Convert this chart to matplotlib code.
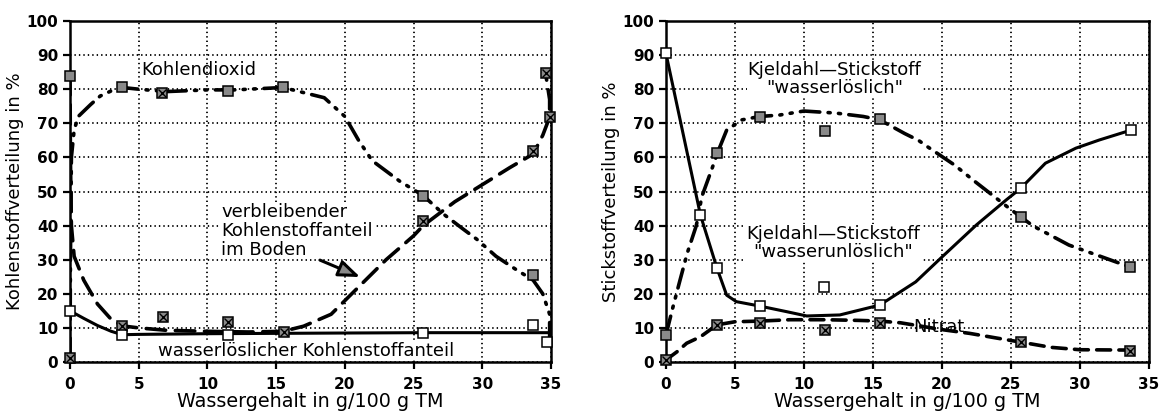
import matplotlib
matplotlib.use("Agg")
import matplotlib.pyplot as plt

plt.rcParams['font.family'] = ['DejaVu Sans']
plt.rcParams['lines.scale_dashes'] = False

# ---- left panel: Kohlenstoff ----
# measured points (markers)
co2_x = [0, 3.8, 11.5, 15.5, 25.7, 33.7]
co2_y = [84, 80.5, 79.6, 80.5, 48.8, 25.5]
co2_cross_x = [6.7]
co2_cross_y = [78.8]
rest_x = [0, 3.8, 6.8, 11.5, 15.6, 25.7, 33.7, 34.9, 34.6]
rest_y = [1.3, 10.6, 13.1, 11.8, 8.9, 41.4, 62.0, 71.8, 84.8]
sol_x = [0, 3.8, 11.5, 25.7, 33.7, 34.7]
sol_y = [15, 7.9, 7.9, 8.6, 10.9, 6.0]

# curves
co2_curve_x = [0, 0.03, 0.1, 0.3, 0.6, 1.5, 2.2, 3.0, 3.8, 5, 7, 10, 12, 15.5, 17, 18.5,
               20, 21, 22, 24, 25.7, 27.2, 28.6, 29.6, 31, 32.5, 33.7, 34.4, 34.9, 34.9]
co2_curve_y = [1.3, 30, 60, 68, 72, 75.5, 78, 79.5, 80.5, 80, 79.3, 79.8, 79.8, 80.5, 79, 77.5,
               72, 65, 59, 53, 48.8, 43.3, 39, 36, 31, 27, 24, 20, 14, 7]
rest_curve_x = [0, 0.03, 0.1, 0.3, 1, 2, 3, 3.8, 5, 7, 10, 13, 15.5, 17, 19, 21, 23, 25, 25.7,
                28, 30, 32, 33.7, 34.4, 34.9, 34.9, 34.6]
rest_curve_y = [84, 60, 40, 31, 24, 17, 12.5, 10.6, 10, 9.3, 9, 8.8, 9, 10.5, 14, 22, 30, 37, 40,
                47, 52, 57, 61, 66.5, 71.8, 77, 84.8]
sol_curve_x = [0, 1, 2, 3, 3.8, 5, 10, 15, 20, 25.7, 30, 35]
sol_curve_y = [15, 12.8, 10.7, 9.0, 8.0, 8.1, 8.3, 8.4, 8.5, 8.6, 8.6, 8.6]

# ---- right panel: Stickstoff ----
nl_x = [0, 3.7, 6.8, 11.5, 15.5, 25.7, 33.6]
nl_y = [7.9, 61.4, 71.8, 67.8, 71.2, 42.6, 27.9]
nu_x = [0, 2.5, 3.7, 6.8, 11.45, 15.5, 25.7, 33.7]
nu_y = [90.5, 43.1, 27.5, 16.4, 21.9, 16.7, 50.9, 68.0]
no3_x = [0, 3.7, 6.8, 11.5, 15.5, 25.7, 33.6]
no3_y = [0.6, 10.9, 11.3, 9.4, 11.3, 6.0, 3.3]

nl_curve_x = [0, 0.5, 1.0, 1.55, 2.2, 2.6, 3.3, 3.8, 4.4, 5.5, 6.8, 8.2, 10, 12.3, 14.3, 15.5,
              16.4, 17.3, 18.3, 19, 20.9, 22.4, 24.9, 25.7, 26.6, 29.2, 31.2, 33.6]
nl_curve_y = [7.9, 16, 23.7, 32, 40, 48.5, 56.3, 62, 68, 71, 72, 72.4, 73.6, 73, 72, 71,
              69, 67, 65, 63, 57.8, 52.9, 45, 42.6, 39.9, 34.3, 31.4, 27.9]
nu_curve_x = [0, 2.5, 3.7, 4.4, 5.1, 6.8, 8.7, 10.2, 12.6, 15.5, 18.1, 19.9, 22.5, 24.65,
              25.7, 27.5, 29.7, 31.4, 33.7]
nu_curve_y = [90.5, 43.1, 27.5, 19.6, 17.7, 16.4, 14.8, 13.5, 13.8, 16.7, 23.5, 30.4, 40.2,
              47.5, 50.9, 58.3, 62.7, 65.1, 68.0]
no3_curve_x = [0, 0.8, 1.5, 2.5, 3.7, 5, 6.8, 9, 11.5, 14, 15.5, 17, 20, 22, 24, 25.9, 27.9,
               30, 33.6]
no3_curve_y = [0.6, 3, 5.5, 7.4, 10.9, 11.8, 12.0, 12.4, 12.4, 12.2, 12.0, 11.5, 9.5, 8.4, 7.0,
               5.7, 4.3, 3.6, 3.5]

x_ticks = [0, 5, 10, 15, 20, 25, 30, 35]
y_ticks = [0, 10, 20, 30, 40, 50, 60, 70, 80, 90, 100]

DASHDOTDOT = (0, (14, 6, 1.5, 6, 1.5, 6))
LONGDASH = (0, (14, 7))
SHORTDASH = (0, (10, 6))
GRAY = '#8a8a8a'


def setup_axes(ax, ylabel):
    ax.set_xlim(0, 35)
    ax.set_ylim(0, 100)
    ax.set_xticks(x_ticks)
    ax.set_yticks(y_ticks)
    ax.grid(True, color='black', linestyle=(0, (1, 2.2)), linewidth=1.3)
    ax.tick_params(direction='out', length=5, width=1.6, labelsize=11,
                   top=False, right=False)
    ax.tick_params(axis='x', pad=6)
    for lbl in ax.get_xticklabels() + ax.get_yticklabels():
        lbl.set_fontweight('bold')
    for sp in ax.spines.values():
        sp.set_linewidth(1.8)
    ax.set_xlabel('Wassergehalt in g/100 g TM', fontsize=13.8, labelpad=0)
    ax.set_ylabel(ylabel, fontsize=13, labelpad=2)


def square_marks(ax, xs, ys, face):
    ax.plot(xs, ys, linestyle='none', marker='s', markersize=6.5,
            markerfacecolor=face, markeredgecolor='black', markeredgewidth=1.1,
            zorder=5, clip_on=False)


def cross_marks(ax, xs, ys):
    square_marks(ax, xs, ys, GRAY)
    ax.plot(xs, ys, linestyle='none', marker='x', markersize=6,
            color='black', markeredgewidth=1.0, zorder=6, clip_on=False)


fig = plt.figure(figsize=(11.61, 4.15), dpi=100)
ax1 = fig.add_axes([0.0603, 0.1277, 0.4143, 0.8217])
ax2 = fig.add_axes([0.5736, 0.1277, 0.4160, 0.8217])

# left
setup_axes(ax1, 'Kohlenstoffverteilung in %')
ax1.plot(co2_curve_x, co2_curve_y, color='black', lw=2.6, linestyle=DASHDOTDOT,
         dash_capstyle='round', zorder=3)
ax1.plot(rest_curve_x, rest_curve_y, color='black', lw=2.6, linestyle=LONGDASH,
         dash_capstyle='round', zorder=3)
ax1.plot(sol_curve_x, sol_curve_y, color='black', lw=2.2, linestyle='-', zorder=3)
square_marks(ax1, co2_x, co2_y, GRAY)
cross_marks(ax1, co2_cross_x, co2_cross_y)
cross_marks(ax1, rest_x, rest_y)
square_marks(ax1, sol_x, sol_y, 'white')

ax1.text(5.2, 85.6, 'Kohlendioxid', fontsize=13, ha='left', va='center')
ax1.text(11.0, 38.4, 'verbleibender\nKohlenstoffanteil\nim Boden', fontsize=13,
         ha='left', va='center', linespacing=1.05,
         bbox=dict(facecolor='white', edgecolor='none', pad=0.5), zorder=2.5)
ax1.annotate('', xy=(21.3, 24.6), xytext=(18.0, 30.2),
             arrowprops=dict(arrowstyle='-|>,head_length=1.3,head_width=0.5',
                             lw=2.2, edgecolor='black', facecolor=GRAY))
ax1.text(6.4, 3.3, 'wasserlöslicher Kohlenstoffanteil', fontsize=13,
         ha='left', va='center',
         bbox=dict(facecolor='white', edgecolor='none', pad=0.3), zorder=2.5)

# right
setup_axes(ax2, 'Stickstoffverteilung in %')
ax2.plot(nl_curve_x, nl_curve_y, color='black', lw=2.6, linestyle=DASHDOTDOT,
         dash_capstyle='round', zorder=3)
ax2.plot(nu_curve_x, nu_curve_y, color='black', lw=2.2, linestyle='-', zorder=3)
ax2.plot(no3_curve_x, no3_curve_y, color='black', lw=2.6, linestyle=SHORTDASH,
         dash_capstyle='round', zorder=3)
square_marks(ax2, nl_x, nl_y, GRAY)
square_marks(ax2, nu_x, nu_y, 'white')
cross_marks(ax2, no3_x, no3_y)

ax2.text(12.2, 83.0, 'Kjeldahl—Stickstoff\n"wasserlöslich"', fontsize=13,
         ha='center', va='center', linespacing=1.05,
         bbox=dict(facecolor='white', edgecolor='none', pad=0.5), zorder=2.5)
ax2.text(12.1, 34.9, 'Kjeldahl—Stickstoff\n"wasserunlöslich"', fontsize=13,
         ha='center', va='center', linespacing=1.05,
         bbox=dict(facecolor='white', edgecolor='none', pad=0.5), zorder=2.5)
ax2.text(17.9, 10.2, 'Nitrat', fontsize=13, ha='left', va='center')

fig.savefig('out.png', dpi=100)
